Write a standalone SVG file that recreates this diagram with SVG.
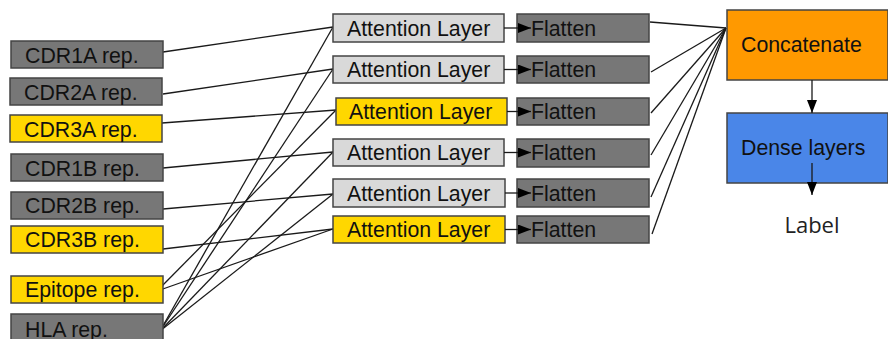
<svg xmlns="http://www.w3.org/2000/svg" width="888" height="339" viewBox="0 0 888 339">
<defs>
<marker id="ah" markerUnits="userSpaceOnUse" markerWidth="13" markerHeight="10" refX="13" refY="5" orient="auto">
<path d="M0,0 L13,5 L0,10 z" fill="#000"/>
</marker>
<style>
.box{stroke:#444;stroke-width:1.5}
.grey{fill:#777}
.light{fill:#d9d9d9}
.yellow{fill:#ffd700}
.orange{fill:#ff9900}
.blue{fill:#4a86e8}
.t{font-family:"Liberation Sans",Arial,sans-serif;font-size:21.3px;fill:#111}
.lbl{font-family:"Open Sans","Noto Sans",sans-serif;font-size:22px;fill:#222}
.c{stroke:#1a1a1a;stroke-width:1.3;fill:none}
.a{stroke:#1a1a1a;stroke-width:1.3;fill:none;marker-end:url(#ah)}
</style>
</defs>
<rect width="888" height="339" fill="#fff"/>

<g id="connectors">
<line class="c" x1="163" y1="52" x2="333" y2="27"/>
<line class="c" x1="163" y1="94" x2="333" y2="69"/>
<line class="c" x1="162" y1="123" x2="336" y2="110"/>
<line class="c" x1="163" y1="168" x2="333" y2="152"/>
<line class="c" x1="163" y1="209" x2="333" y2="194"/>
<line class="c" x1="163" y1="249" x2="333" y2="229"/>
<line class="c" x1="160" y1="288" x2="336" y2="110"/>
<line class="c" x1="160" y1="290" x2="333" y2="229"/>
<line class="c" x1="160" y1="331" x2="333" y2="27"/>
<line class="c" x1="160" y1="331" x2="333" y2="69"/>
<line class="c" x1="160" y1="331" x2="333" y2="152"/>
<line class="c" x1="160" y1="331" x2="333" y2="194"/>
<line class="c" x1="650" y1="22" x2="726" y2="28"/>
<line class="c" x1="651" y1="72" x2="726" y2="28"/>
<line class="c" x1="651" y1="113" x2="726" y2="28"/>
<line class="c" x1="651" y1="155" x2="726" y2="28"/>
<line class="c" x1="651" y1="197" x2="726" y2="28"/>
<line class="c" x1="652" y1="234" x2="726" y2="28"/>
</g>

<g id="cdr1a"><rect class="box grey" x="11" y="41" width="152" height="27"/><text class="t" x="25" y="62.5">CDR1A rep.</text></g>
<g id="cdr2a"><rect class="box grey" x="10" y="78" width="152" height="27"/><text class="t" x="24" y="99.5">CDR2A rep.</text></g>
<g id="cdr3a"><rect class="box yellow" x="10" y="115" width="152" height="27"/><text class="t" x="24" y="136.5">CDR3A rep.</text></g>
<g id="cdr1b"><rect class="box grey" x="11" y="154" width="152" height="27"/><text class="t" x="25" y="175.5">CDR1B rep.</text></g>
<g id="cdr2b"><rect class="box grey" x="11" y="192" width="152" height="27"/><text class="t" x="25" y="213">CDR2B rep.</text></g>
<g id="cdr3b"><rect class="box yellow" x="11" y="226" width="152" height="27"/><text class="t" x="25" y="247">CDR3B rep.</text></g>
<g id="epitope"><rect class="box yellow" x="11" y="276" width="152" height="27"/><text class="t" x="25" y="297">Epitope rep.</text></g>
<g id="hla"><rect class="box grey" x="11" y="314" width="152" height="27"/><text class="t" x="25" y="336.5">HLA rep.</text></g>

<g id="att1"><rect class="box light" x="333" y="14" width="171" height="28"/><text class="t" x="347" y="35.5">Attention Layer</text></g>
<g id="att2"><rect class="box light" x="333" y="56" width="171" height="27"/><text class="t" x="347" y="76.5">Attention Layer</text></g>
<g id="att3"><rect class="box yellow" x="336" y="98" width="171" height="27"/><text class="t" x="349" y="118.5">Attention Layer</text></g>
<g id="att4"><rect class="box light" x="333" y="139" width="171" height="27"/><text class="t" x="347" y="160">Attention Layer</text></g>
<g id="att5"><rect class="box light" x="333" y="179" width="172" height="28"/><text class="t" x="347" y="200.5">Attention Layer</text></g>
<g id="att6"><rect class="box yellow" x="333" y="216" width="172" height="27"/><text class="t" x="347" y="236.5">Attention Layer</text></g>

<g id="flat1"><rect class="box grey" x="517" y="14" width="132" height="28"/><text class="t" x="531" y="35.5">Flatten</text></g>
<g id="flat2"><rect class="box grey" x="517" y="56" width="132" height="27"/><text class="t" x="531" y="76.5">Flatten</text></g>
<g id="flat3"><rect class="box grey" x="517" y="98" width="132" height="27"/><text class="t" x="531" y="118.5">Flatten</text></g>
<g id="flat4"><rect class="box grey" x="517" y="139" width="132" height="28"/><text class="t" x="531" y="160">Flatten</text></g>
<g id="flat5"><rect class="box grey" x="517" y="179" width="132" height="28"/><text class="t" x="531" y="200.5">Flatten</text></g>
<g id="flat6"><rect class="box grey" x="517" y="216" width="132" height="27"/><text class="t" x="531" y="236.5">Flatten</text></g>

<g id="concatenate"><rect class="box orange" x="727" y="10" width="161" height="70"/><text class="t" x="741" y="52">Concatenate</text></g>
<g id="dense"><rect class="box blue" x="727" y="113" width="161" height="70"/><text class="t" x="741" y="155">Dense layers</text></g>
<g id="label"><text class="lbl" x="812" y="233" text-anchor="middle">Label</text></g>

<g id="arrows">
<line class="a" x1="504" y1="28" x2="531" y2="28"/>
<line class="a" x1="504" y1="69.5" x2="531" y2="69.5"/>
<line class="a" x1="507" y1="111.5" x2="531" y2="111.5"/>
<line class="a" x1="504" y1="152.5" x2="531" y2="152.5"/>
<line class="a" x1="505" y1="193" x2="531" y2="193"/>
<line class="a" x1="505" y1="229.5" x2="531" y2="229.5"/>
<line class="a" x1="812" y1="80" x2="812" y2="113"/>
<line class="a" x1="812" y1="163" x2="812" y2="195"/>
</g>
</svg>
